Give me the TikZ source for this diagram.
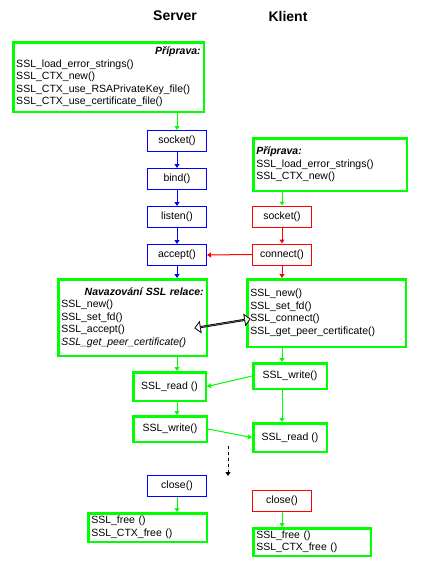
\documentclass[tikz,border=0pt]{standalone}
\usepackage{fontspec}
\setmainfont{Liberation Sans}
\usetikzlibrary{positioning,calc,arrows.meta,shapes.arrows}

\definecolor{sslgreen}{RGB}{0,255,0}
\definecolor{srvblue}{RGB}{0,0,255}
\definecolor{clired}{RGB}{255,0,0}

\begin{document}
\begin{tikzpicture}[
    x=1pt, y=-1pt,
    font=\fontsize{10.5}{12.5}\selectfont,
    title/.style={font=\fontsize{14}{16}\selectfont\bfseries},
    sockbox/.style={draw, line width=1pt, minimum width=59pt, minimum height=21pt, inner sep=0pt},
    srv/.style={sockbox, draw=srvblue},
    cli/.style={sockbox, draw=clired},
    prep/.style={draw=sslgreen, line width=2.5pt, align=left, inner xsep=3pt, inner ysep=0pt},
    sslcall/.style={draw=sslgreen, line width=2.5pt, inner sep=0pt},
    tip/.style={-{Triangle[length=4pt,width=5pt]}, line width=1pt},
    garr/.style={tip, draw=sslgreen, fill=sslgreen},
    barr/.style={tip, draw=srvblue, fill=srvblue},
    rarr/.style={tip, draw=clired, fill=clired}
]
    \useasboundingbox (0,0) rectangle (422,568);

    % Titles
    \node[title] (tS) at (175,16) {Server};
    \node[title] (tK) at (288,16) {Klient};

    % Server preparation
    \node[prep, text width=184.5pt, minimum height=69.5pt] (prepS) at (108.5,77) {%
        \hspace*{\fill}\textbf{\textit{Příprava:}}\\
        SSL\_load\_error\_strings()\\
        SSL\_CTX\_new()\\
        SSL\_CTX\_use\_RSAPrivateKey\_file()\\
        SSL\_CTX\_use\_certificate\_file()};

    % Server sockets
    \node[srv] (sockS) at (177,141) {socket()};
    \node[srv, below=16pt of sockS] (bindS) {bind()};
    \node[srv, below=16pt of bindS] (listenS) {listen()};
    \node[srv, below=16pt of listenS] (acceptS) {accept()};

    % Client preparation
    \node[prep, text width=147.5pt, minimum height=52.5pt] (prepC) at (330,164.5) {%
        \textbf{\textit{Příprava:}}\\
        SSL\_load\_error\_strings()\\
        SSL\_CTX\_new()};

    % Client sockets
    \node[cli] (sockC) at (282,216.5) {socket()};
    \node[cli, below=16pt of sockC] (connC) {connect()};

    % SSL handshake
    \node[prep, text width=142.5pt, minimum height=76.5pt] (sslS) at (132.5,317.5) {%
        \hspace*{\fill}\textbf{\textit{Navazování SSL relace:}}\\
        SSL\_new()\\
        SSL\_set\_fd()\\
        SSL\_accept()\\
        \textit{SSL\_get\_peer\_certificate()}};
    \node[prep, text width=152.5pt, minimum height=67.5pt] (sslC) at (326.5,313) {%
        SSL\_new()\\
        SSL\_set\_fd()\\
        SSL\_connect()\\
        SSL\_get\_peer\_certificate()};

    % Data transfer
    \node[sslcall, minimum width=72.5pt, minimum height=28.5pt] (readS) at (169.5,386.5) {SSL\_read ()};
    \node[sslcall, minimum width=73.5pt, minimum height=25.5pt] (writeC) at (290,376) {SSL\_write()};
    \node[sslcall, minimum width=73.5pt, minimum height=25.5pt] (writeS) at (170,429) {SSL\_write()};
    \node[sslcall, minimum width=73.5pt, minimum height=28.5pt] (readC) at (290,437.5) {SSL\_read ()};

    % Closing
    \node[srv] (closeS) at (177,486) {close()};
    \node[cli] (closeC) at (282,501) {close()};
    \node[prep, text width=112.5pt, minimum height=28.5pt] (freeS) at (147.5,527.5) {%
        SSL\_free ()\\
        SSL\_CTX\_free ()};
    \node[prep, text width=111.5pt, minimum height=27.5pt] (freeC) at (312,542) {%
        SSL\_free ()\\
        SSL\_CTX\_free ()};

    \coordinate (dashA) at (228,446);
    \coordinate (dashB) at (228,476);
    \coordinate (dl) at (195,328);
    \coordinate (dr) at (250,319);

    % Server arrows
    \draw[garr] (prepS.south -| sockS) -- (sockS.north);
    \draw[barr] (sockS) -- (bindS);
    \draw[barr] (bindS) -- (listenS);
    \draw[barr] (listenS) -- (acceptS);
    \draw[barr] (acceptS.south) -- (sslS.north -| acceptS);

    % Client arrows
    \draw[garr] (prepC.south -| sockC) -- (sockC.north);
    \draw[rarr] (sockC) -- (connC);
    \draw[rarr] (connC.south) -- (sslC.north -| connC);
    \draw[rarr] (connC.west) -- (acceptS.east);

    % Handshake
    \node[double arrow, draw, fill=white, line width=0.8pt, minimum height=56pt, minimum width=11pt,
          double arrow head extend=3pt, inner sep=0pt, rotate=9.3] (hand) at ($(dl)!0.5!(dr)$) {};

    % Data arrows
    \draw[garr] (sslS.south -| sockS) -- (readS.north -| sockS);
    \draw[garr] (sslC.south -| sockC) -- (writeC.north -| sockC);
    \draw[garr] (writeC.west) -- (readS.east);
    \draw[garr] (readS.south -| sockS) -- (writeS.north -| sockS);
    \draw[garr] (writeC.south -| sockC) -- (readC.north -| sockC);
    \draw[garr] (writeS.east) -- (readC.west);
    \draw[tip, dashed, fill=black] (dashA) -- (dashB);

    % Close arrows
    \draw[garr] (closeS.south) -- (freeS.north -| closeS);
    \draw[garr] (closeC.south) -- (freeC.north -| closeC);

\end{tikzpicture}
\end{document}
